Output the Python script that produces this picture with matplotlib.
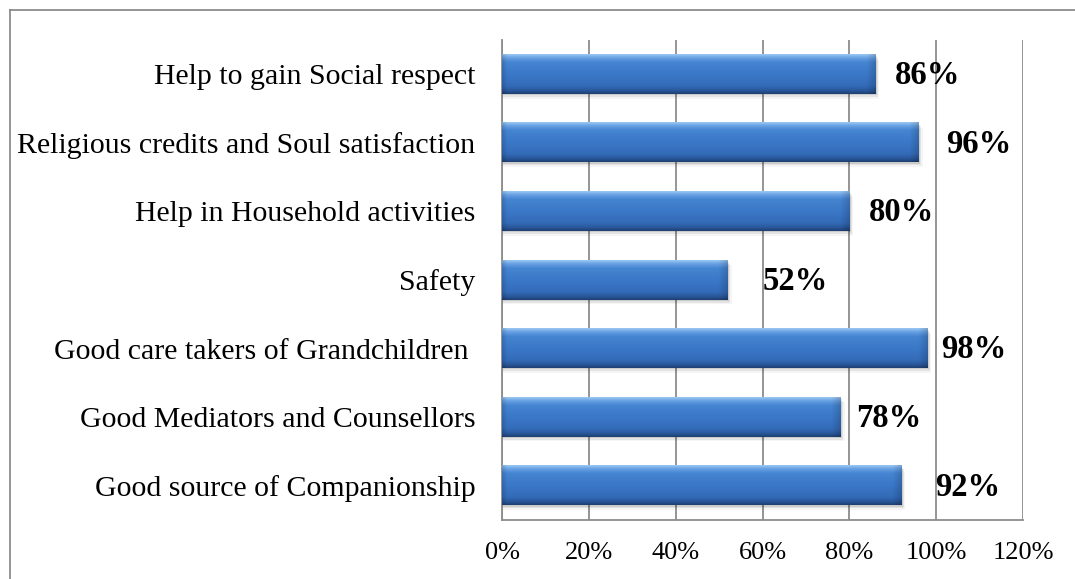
import numpy as np
import matplotlib
matplotlib.use("Agg")
import matplotlib.pyplot as plt
from matplotlib.lines import Line2D
from matplotlib.patches import Rectangle

# data (top to bottom as shown)
categories = ["Help to gain Social respect",
              "Religious credits and Soul satisfaction",
              "Help in Household activities",
              "Safety",
              "Good care takers of Grandchildren ",
              "Good Mediators and Counsellors",
              "Good source of Companionship"]
values = [86, 96, 80, 52, 98, 78, 92]
xticks = [0, 20, 40, 60, 80, 100, 120]

# label offsets from bar end (points), as placed in the original
label_dx = [14, 20, 14, 25, 10, 11, 24]

plt.rcParams['font.family'] = ['Liberation Serif', 'DejaVu Serif']

fig = plt.figure(figsize=(10.75, 5.79), dpi=100, facecolor='white')
ax = fig.add_axes([502/1075, 1 - 520/579, 521/1075, 480/579])

# chart frame (only top and left edges are visible)
fig.add_artist(Line2D([10/1075, 10/1075], [1 - 10/579, 0], transform=fig.transFigure,
                      color='#8c8c8c', lw=1.3))
fig.add_artist(Line2D([10/1075, 1], [1 - 10/579, 1 - 10/579], transform=fig.transFigure,
                      color='#8c8c8c', lw=1.3))

n = len(categories)
ypos = np.arange(n)[::-1]
h = 0.57

# vertical gradient for the bevelled bars
stops = [0.0, 0.08, 0.2, 0.5, 0.8, 0.92, 1.0]
cols = np.array([[0.60, 0.78, 0.95],
                 [0.42, 0.64, 0.90],
                 [0.27, 0.52, 0.82],
                 [0.23, 0.47, 0.78],
                 [0.20, 0.42, 0.72],
                 [0.16, 0.34, 0.60],
                 [0.12, 0.25, 0.45]])
t = np.linspace(0, 1, 60)
grad = np.stack([np.interp(t, stops, cols[:, k]) for k in range(3)], axis=-1)

px_per_unit = 521 / 120.0
for y, v in zip(ypos, values):
    ncol = max(int(v * px_per_unit), 2)
    img = np.repeat(grad[:, None, :], ncol, axis=1)
    # soft darker bevel at both ends
    xs = np.arange(ncol)
    shade = np.ones(ncol)
    shade = np.minimum(shade, 0.86 + 0.14 * np.clip(xs / 5.0, 0, 1))
    shade = np.minimum(shade, 0.84 + 0.16 * np.clip((ncol - 1 - xs) / 9.0, 0, 1))
    img = img * shade[None, :, None]
    # shadow under the bar
    for k, a in enumerate([0.10, 0.07, 0.04]):
        ax.add_patch(Rectangle((0, y - h/2 - 0.02 - 0.025*k), v + 0.3 + 0.3*k, h,
                               facecolor='black', alpha=a, lw=0, zorder=2))
    ax.imshow(img, extent=[0, v, y - h/2, y + h/2], origin='upper',
              aspect='auto', interpolation='bilinear', zorder=3)

for y, v, dx in zip(ypos, values, label_dx):
    ax.annotate(f"{v}%", xy=(v, y), xytext=(dx, -1), textcoords='offset points',
                ha='left', va='center', fontsize=23.5, fontweight='bold', zorder=5)

ax.set_xlim(0, 120)
ax.set_ylim(-0.5, n - 0.5)
ax.set_xticks(xticks)
ax.set_xticklabels([f"{x}%" for x in xticks], fontsize=19)
ax.set_yticks(ypos)
ax.set_yticklabels(categories, fontsize=21.5)
ax.tick_params(axis='both', length=0)
ax.tick_params(axis='x', pad=16)
ax.tick_params(axis='y', pad=19)

ax.grid(axis='x', color='#8c8c8c', lw=1.3, zorder=0)
ax.set_axisbelow(True)
for s in ['top', 'right']:
    ax.spines[s].set_visible(False)
for s in ['left', 'bottom']:
    ax.spines[s].set_color('#8c8c8c')
    ax.spines[s].set_linewidth(1.3)

fig.savefig("out.png", dpi=100, facecolor='white')
